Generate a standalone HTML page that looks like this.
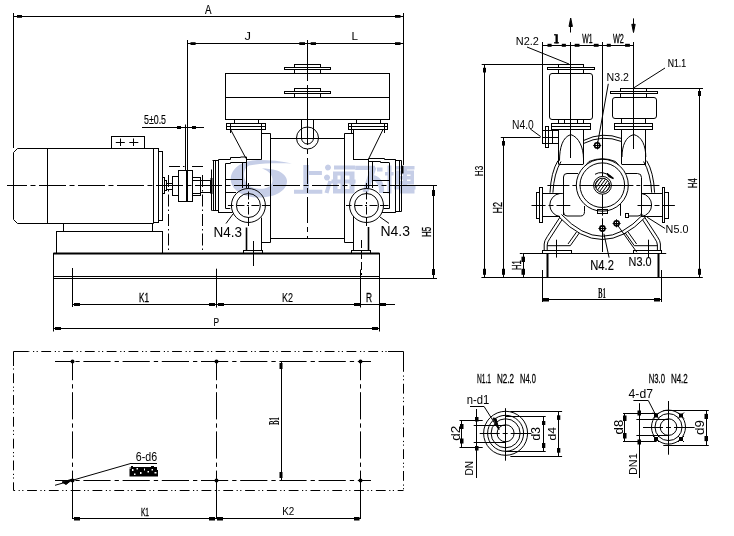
<!DOCTYPE html>
<html><head><meta charset="utf-8"><style>
html,body{margin:0;padding:0;background:#fff;}
svg{display:block;}
</style></head><body>
<svg width="734" height="536" viewBox="0 0 734 536">
<rect width="734" height="536" fill="#fff"/>
<g fill="none" stroke="#000" stroke-width="1" font-family="Liberation Sans, sans-serif">
<g fill="#000" stroke="none" id="txt"></g>
<line x1="13.5" y1="13" x2="13.5" y2="148"/>
<line x1="13.4" y1="16.5" x2="403.3" y2="16.5"/>
<line x1="403.5" y1="13" x2="403.5" y2="165"/>
<rect x="17" y="15" width="5" height="2.8" fill="#000" stroke="none"/>
<rect x="395" y="15" width="5.5" height="2.8" fill="#000" stroke="none"/>
<text x="205" y="13.8" font-size="11.86" textLength="6.5" lengthAdjust="spacingAndGlyphs" fill="#000" stroke="#000" stroke-width="0.15">A</text>
<line x1="187.5" y1="40" x2="187.5" y2="170"/>
<line x1="187.5" y1="43.5" x2="403.3" y2="43.5"/>
<rect x="190.5" y="42.2" width="5.1" height="2.8" fill="#000" stroke="none"/>
<rect x="299.3" y="42.2" width="5.7" height="2.8" fill="#000" stroke="none"/>
<rect x="310.7" y="42.2" width="5.3" height="2.8" fill="#000" stroke="none"/>
<rect x="395" y="42.2" width="5.5" height="2.8" fill="#000" stroke="none"/>
<text x="244.5" y="40" font-size="11.43" textLength="6.5" lengthAdjust="spacingAndGlyphs" fill="#000" stroke="none">J</text>
<text x="351.5" y="40" font-size="11.43" textLength="6.5" lengthAdjust="spacingAndGlyphs" fill="#000" stroke="none">L</text>
<line x1="307.5" y1="40" x2="307.5" y2="81"/>
<line x1="307.5" y1="85" x2="307.5" y2="119"/>
<line x1="307.5" y1="119" x2="307.5" y2="238" stroke-dasharray="26 4 5 4"/>
<rect x="225.5" y="73.5" width="164" height="46"/>
<line x1="225.4" y1="97.5" x2="389.8" y2="97.5"/>
<rect x="294.5" y="64.5" width="26" height="3"/>
<rect x="284.5" y="67.5" width="46" height="2"/>
<line x1="294.5" y1="69.4" x2="294.5" y2="73.4"/>
<line x1="320.5" y1="69.4" x2="320.5" y2="73.4"/>
<rect x="294.5" y="88.5" width="26" height="3"/>
<rect x="284.5" y="91.5" width="46" height="2"/>
<line x1="294.5" y1="93.4" x2="294.5" y2="97.4"/>
<line x1="320.5" y1="93.4" x2="320.5" y2="97.4"/>
<line x1="301.5" y1="119" x2="301.5" y2="138"/>
<line x1="313.5" y1="119" x2="313.5" y2="138"/>
<circle cx="307.5" cy="138" r="11"/>
<path d="M301.5 138 A6 6 0 0 0 313.5 138"/>
<line x1="234.5" y1="119" x2="234.5" y2="123.5"/>
<line x1="258.5" y1="119" x2="258.5" y2="123.5"/>
<rect x="226.5" y="123.5" width="39" height="6"/>
<line x1="226" y1="126.5" x2="265" y2="126.5"/>
<line x1="230.5" y1="123.5" x2="230.5" y2="133"/>
<line x1="261.5" y1="123.5" x2="261.5" y2="159.5"/>
<path d="M230.6 129.5 L246 158.5"/>
<line x1="246" y1="159.5" x2="261.5" y2="159.5"/>
<line x1="356.5" y1="119" x2="356.5" y2="123.5"/>
<line x1="380.5" y1="119" x2="380.5" y2="123.5"/>
<rect x="348.5" y="123.5" width="39" height="6"/>
<line x1="348.5" y1="126.5" x2="387.5" y2="126.5"/>
<line x1="351.5" y1="123.5" x2="351.5" y2="133"/>
<line x1="384.5" y1="123.5" x2="384.5" y2="133"/>
<line x1="353.5" y1="129" x2="353.5" y2="159.4"/>
<line x1="353" y1="159.5" x2="368.8" y2="159.5"/>
<path d="M368.8 158.5 L383 129.5"/>
<line x1="261.5" y1="133.5" x2="270.6" y2="133.5"/>
<line x1="270.5" y1="133.5" x2="270.5" y2="242.4"/>
<line x1="344.4" y1="133.5" x2="353" y2="133.5"/>
<line x1="344.5" y1="133.5" x2="344.5" y2="242.4"/>
<line x1="270.6" y1="138.5" x2="344.4" y2="138.5"/>
<line x1="270.6" y1="238.5" x2="344.4" y2="238.5"/>
<line x1="261.5" y1="242.5" x2="270.6" y2="242.5"/>
<line x1="344.4" y1="242.5" x2="353.4" y2="242.5"/>
<path d="M212.5 160.5 H218.5 V159.5 H230.5 V157.5 H240.5 V157 H246.5"/>
<line x1="211.5" y1="169.5" x2="211.5" y2="210.7"/>
<line x1="211.5" y1="178" x2="211.5" y2="194" stroke-width="2"/>
<line x1="213.5" y1="160.5" x2="213.5" y2="210.7"/>
<line x1="215.5" y1="161" x2="215.5" y2="210.7"/>
<line x1="218.5" y1="160" x2="218.5" y2="212.2"/>
<line x1="212.2" y1="210.5" x2="218" y2="210.5"/>
<line x1="218" y1="212.5" x2="232.6" y2="212.5"/>
<path d="M225.5 163.5 H230.5 V162.5 H246.5"/>
<line x1="225.5" y1="163.5" x2="225.5" y2="208.4"/>
<line x1="242.5" y1="162" x2="242.5" y2="188"/>
<line x1="246.5" y1="157" x2="246.5" y2="188"/>
<line x1="225.5" y1="179.5" x2="242.3" y2="179.5"/>
<line x1="225.5" y1="192.5" x2="236" y2="192.5"/>
<line x1="225.5" y1="208.5" x2="230.3" y2="208.5"/>
<path d="M368.5 158.5 H384.5 V159.5 H395.5 V160.5 H401.5"/>
<line x1="368.5" y1="158.5" x2="368.5" y2="188"/>
<line x1="372.5" y1="161.8" x2="372.5" y2="188"/>
<line x1="389.5" y1="163" x2="389.5" y2="208.4"/>
<path d="M368.7 161.5 H380.5 V162.5 H389.5"/>
<line x1="395.5" y1="159.5" x2="395.5" y2="212.5"/>
<line x1="399.5" y1="160.5" x2="399.5" y2="211.5"/>
<line x1="401.5" y1="160.5" x2="401.5" y2="211.5"/>
<line x1="402.5" y1="165.7" x2="402.5" y2="173.5" stroke-width="2"/>
<line x1="372.6" y1="180.5" x2="389.6" y2="180.5"/>
<line x1="383" y1="192.5" x2="389.6" y2="192.5"/>
<line x1="383.4" y1="208.5" x2="389.6" y2="208.5"/>
<path d="M381.5 212.5 H395.5 V211.5 H401.5"/>
<circle cx="248.4" cy="205.5" r="17" fill="#fff"/>
<circle cx="248.4" cy="205.5" r="12"/>
<line x1="227.9" y1="205.5" x2="270.4" y2="205.5" stroke-dasharray="5.5 3 8 2.5 2 2.5 8 2.5 9"/>
<line x1="248.5" y1="183" x2="248.5" y2="229" stroke-dasharray="5.5 3 8 2.5 2 2.5 8 2.5 9"/>
<circle cx="366.5" cy="205.5" r="17" fill="#fff"/>
<circle cx="366.5" cy="205.5" r="12"/>
<line x1="346" y1="205.5" x2="388.5" y2="205.5" stroke-dasharray="5.5 3 8 2.5 2 2.5 8 2.5 9"/>
<line x1="366.5" y1="183" x2="366.5" y2="229" stroke-dasharray="5.5 3 8 2.5 2 2.5 8 2.5 9"/>
<line x1="246.5" y1="227.5" x2="246.5" y2="250" stroke-width="1.6"/>
<line x1="261.5" y1="217.5" x2="261.5" y2="250"/>
<rect x="243.5" y="250.5" width="19" height="3"/>
<line x1="353.5" y1="216" x2="353.5" y2="250"/>
<line x1="368.5" y1="227" x2="368.5" y2="250" stroke-width="1.6"/>
<rect x="351.5" y="250.5" width="19" height="3"/>
<line x1="253.5" y1="241" x2="253.5" y2="266"/>
<line x1="361.5" y1="240" x2="361.5" y2="275" stroke-dasharray="8 3"/>
<text x="213.5" y="237" font-size="14.29" textLength="28.5" lengthAdjust="spacingAndGlyphs" fill="#000" stroke="none">N4.3</text>
<text x="380.5" y="235.6" font-size="14.57" textLength="29.5" lengthAdjust="spacingAndGlyphs" fill="#000" stroke="none">N4.3</text>
<path d="M233 214 L226 223.5"/>
<path d="M380 217 L389 223.4"/>
<line x1="53.4" y1="253.5" x2="379.5" y2="253.5" stroke-width="2"/>
<line x1="53.5" y1="253" x2="53.5" y2="331.5"/>
<line x1="379.5" y1="253" x2="379.5" y2="331.5"/>
<line x1="53.4" y1="276.5" x2="379.5" y2="276.5"/>
<line x1="53.4" y1="278.5" x2="437" y2="278.5"/>
<path d="M13.5 152.5 L17.5 148.5 L153.5 148.5 L153.5 223.5 L17.5 223.5 L13.5 219.5 Z"/>
<line x1="47.5" y1="148" x2="47.5" y2="223"/>
<rect x="153.5" y="148.5" width="5" height="74"/>
<rect x="158.5" y="151.5" width="4" height="69"/>
<rect x="111.5" y="136.5" width="33" height="12"/>
<line x1="115.8" y1="142.5" x2="124.8" y2="142.5"/>
<line x1="120.5" y1="138.5" x2="120.5" y2="146"/>
<line x1="129.3" y1="142.5" x2="138.3" y2="142.5"/>
<line x1="133.5" y1="138.5" x2="133.5" y2="146"/>
<rect x="63.5" y="223.5" width="89" height="8"/>
<rect x="56.5" y="231.5" width="106" height="22"/>
<line x1="168.5" y1="175" x2="168.5" y2="253" stroke-dasharray="12 3 1.5 3"/>
<line x1="202.5" y1="175" x2="202.5" y2="253" stroke-dasharray="12 3 1.5 3"/>
<line x1="169" y1="166.5" x2="180" y2="166.5"/>
<line x1="183" y1="166.5" x2="184.5" y2="166.5"/>
<line x1="192" y1="166.5" x2="203" y2="166.5"/>
<rect x="162.5" y="177.5" width="2" height="16"/>
<rect x="164.5" y="180.5" width="2" height="10"/>
<rect x="166.5" y="183.5" width="6" height="6"/>
<rect x="172.5" y="176.5" width="6" height="19"/>
<rect x="178.5" y="170.5" width="8" height="31"/>
<rect x="187.5" y="170.5" width="5" height="31"/>
<rect x="192.5" y="177.5" width="8" height="18"/>
<line x1="192.5" y1="180.5" x2="200.5" y2="180.5"/>
<line x1="192.5" y1="193.5" x2="200.5" y2="193.5"/>
<rect x="200.5" y="180.5" width="10" height="12"/>
<line x1="142" y1="127.5" x2="204" y2="127.5"/>
<rect x="177" y="126" width="4" height="3" fill="#000" stroke="none"/>
<rect x="192" y="126" width="4" height="3" fill="#000" stroke="none"/>
<line x1="185.5" y1="124.5" x2="185.5" y2="170"/>
<text x="144" y="124" font-size="12.12" textLength="22" lengthAdjust="spacingAndGlyphs" fill="#000" stroke="#000" stroke-width="0.15">5±0.5</text>
<line x1="7" y1="185.5" x2="404" y2="185.5" stroke-dasharray="27 3.5 5 3.5" stroke-dashoffset="7"/>
<line x1="403" y1="185.5" x2="437" y2="185.5"/>
<line x1="72.5" y1="268" x2="72.5" y2="307"/>
<line x1="216.5" y1="268.7" x2="216.5" y2="307.6"/>
<line x1="360.5" y1="269.5" x2="360.5" y2="307.5"/>
<line x1="72.7" y1="304.5" x2="395" y2="304.5"/>
<rect x="74" y="303" width="6" height="3" fill="#000" stroke="none"/>
<rect x="209" y="303" width="6" height="3" fill="#000" stroke="none"/>
<rect x="218" y="303" width="6" height="3" fill="#000" stroke="none"/>
<rect x="354" y="303" width="6" height="3" fill="#000" stroke="none"/>
<rect x="380" y="303" width="6" height="3" fill="#000" stroke="none"/>
<text x="139" y="301.8" font-size="12.57" textLength="10" lengthAdjust="spacingAndGlyphs" fill="#000" stroke="#000" stroke-width="0.3">K1</text>
<text x="282" y="301.5" font-size="12.14" textLength="11" lengthAdjust="spacingAndGlyphs" fill="#000" stroke="#000" stroke-width="0.15">K2</text>
<text x="366" y="302" font-size="12.86" textLength="6" lengthAdjust="spacingAndGlyphs" fill="#000" stroke="#000" stroke-width="0.3">R</text>
<line x1="53.4" y1="328.5" x2="379.5" y2="328.5"/>
<rect x="55" y="327" width="6" height="3" fill="#000" stroke="none"/>
<rect x="372" y="327" width="6" height="3" fill="#000" stroke="none"/>
<text x="213.4" y="326" font-size="11.43" textLength="5.6" lengthAdjust="spacingAndGlyphs" fill="#000" stroke="#000" stroke-width="0.15">P</text>
<line x1="433.5" y1="185" x2="433.5" y2="278"/>
<rect x="432" y="190" width="3" height="6" fill="#000" stroke="none"/>
<rect x="432" y="269" width="3" height="6" fill="#000" stroke="none"/>
<text transform="translate(431,236.9) rotate(-90)" x="0" y="0" font-size="12.71" textLength="10.1" lengthAdjust="spacingAndGlyphs" fill="#000" stroke="#000" stroke-width="0.3">H5</text>
<line x1="481.7" y1="64.5" x2="569" y2="64.5"/>
<line x1="484.5" y1="64.4" x2="484.5" y2="277.7"/>
<rect x="483" y="67.8" width="3" height="4.7" fill="#000" stroke="none"/>
<rect x="483" y="268.8" width="3" height="6" fill="#000" stroke="none"/>
<text transform="translate(482.5,176.2) rotate(-90)" x="0" y="0" font-size="11.43" textLength="10.4" lengthAdjust="spacingAndGlyphs" fill="#000" stroke="#000" stroke-width="0.15">H3</text>
<line x1="500.8" y1="137.5" x2="540.4" y2="137.5"/>
<line x1="503.5" y1="137.5" x2="503.5" y2="277.7"/>
<rect x="502" y="141" width="3" height="4.6" fill="#000" stroke="none"/>
<rect x="502" y="268.8" width="3" height="6" fill="#000" stroke="none"/>
<text transform="translate(502.4,213.5) rotate(-90)" x="0" y="0" font-size="13.14" textLength="11.5" lengthAdjust="spacingAndGlyphs" fill="#000" stroke="#000" stroke-width="0.3">H2</text>
<line x1="523.5" y1="253.2" x2="523.5" y2="277.7"/>
<line x1="519.8" y1="253.5" x2="522.3" y2="253.5"/>
<rect x="521.5" y="256.7" width="3.5" height="5.3" fill="#000" stroke="none"/>
<rect x="521.5" y="268.8" width="3.5" height="6" fill="#000" stroke="none"/>
<text transform="translate(520.5,270) rotate(-90)" x="0" y="0" font-size="12.14" textLength="9.7" lengthAdjust="spacingAndGlyphs" fill="#000" stroke="#000" stroke-width="0.3">H1</text>
<line x1="646.9" y1="88.5" x2="703" y2="88.5"/>
<line x1="699.5" y1="88.4" x2="699.5" y2="277.7"/>
<rect x="698" y="91" width="3" height="5" fill="#000" stroke="none"/>
<rect x="698" y="268.8" width="3" height="6" fill="#000" stroke="none"/>
<text transform="translate(697,187.9) rotate(-90)" x="0" y="0" font-size="13.14" textLength="9.5" lengthAdjust="spacingAndGlyphs" fill="#000" stroke="#000" stroke-width="0.3">H4</text>
<line x1="481.4" y1="277.5" x2="702.8" y2="277.5"/>
<line x1="542.3" y1="45.5" x2="633" y2="45.5"/>
<line x1="542.5" y1="42" x2="542.5" y2="130"/>
<line x1="570.5" y1="22" x2="570.5" y2="32.5"/>
<line x1="570.5" y1="42" x2="570.5" y2="158"/>
<path d="M570.7 18 L569 26.5 L572.4 26.5 Z" fill="#000"/>
<line x1="602.5" y1="42" x2="602.5" y2="215.7"/>
<line x1="602.5" y1="218.3" x2="602.5" y2="252"/>
<line x1="633.5" y1="18.4" x2="633.5" y2="29"/>
<line x1="633.5" y1="42" x2="633.5" y2="88"/>
<path d="M633.5 32.5 L631.8 24.3 L635.2 24.3 Z" fill="#000"/>
<rect x="547.5" y="43.8" width="4.1" height="3" fill="#000" stroke="none"/>
<rect x="561.8" y="43.8" width="4.1" height="3" fill="#000" stroke="none"/>
<rect x="574.7" y="43.8" width="4.8" height="3" fill="#000" stroke="none"/>
<rect x="593.8" y="43.8" width="4.8" height="3" fill="#000" stroke="none"/>
<rect x="606.8" y="43.8" width="4" height="3" fill="#000" stroke="none"/>
<rect x="625.1" y="43.8" width="4.8" height="3" fill="#000" stroke="none"/>
<text x="515.8" y="44.8" font-size="10.57" textLength="23.1" lengthAdjust="spacingAndGlyphs" fill="#000" stroke="none">N2.2</text>
<rect x="555.5" y="34.2" width="2.3" height="9.2" fill="#000" stroke="none"/>
<rect x="554" y="34.2" width="2" height="1.2" fill="#000" stroke="none"/>
<rect x="554" y="42.2" width="5" height="1.2" fill="#000" stroke="none"/>
<text x="582.2" y="42.7" font-size="12.14" textLength="10.3" lengthAdjust="spacingAndGlyphs" fill="#000" stroke="#000" stroke-width="0.3">W1</text>
<text x="612.9" y="42.7" font-size="12.14" textLength="10.9" lengthAdjust="spacingAndGlyphs" fill="#000" stroke="#000" stroke-width="0.3">W2</text>
<text x="606.6" y="81" font-size="11.43" textLength="22.4" lengthAdjust="spacingAndGlyphs" fill="#000" stroke="none">N3.2</text>
<text x="667.7" y="67" font-size="10.71" textLength="18.3" lengthAdjust="spacingAndGlyphs" fill="#000" stroke="#000" stroke-width="0.15">N1.1</text>
<text x="512" y="128.9" font-size="12.00" textLength="21.7" lengthAdjust="spacingAndGlyphs" fill="#000" stroke="none">N4.0</text>
<text x="665.6" y="232.6" font-size="11.71" textLength="22.8" lengthAdjust="spacingAndGlyphs" fill="#000" stroke="none">N5.0</text>
<text x="590.3" y="270.2" font-size="14.00" textLength="23.6" lengthAdjust="spacingAndGlyphs" fill="#000" stroke="#000" stroke-width="0.15">N4.2</text>
<text x="628.6" y="266.3" font-size="13.29" textLength="22.9" lengthAdjust="spacingAndGlyphs" fill="#000" stroke="#000" stroke-width="0.15">N3.0</text>
<path d="M527 47 L569 64"/>
<path d="M665 68 L634 87.7"/>
<path d="M608.3 83.8 L597.4 144.7"/>
<path d="M530.2 128.9 L540.7 136.6"/>
<path d="M647.2 217.3 L665.1 228.5"/>
<path d="M603.9 233.7 L609.1 257.6"/>
<path d="M617 224.4 L636.8 252.2"/>
<rect x="558.5" y="64.5" width="25" height="3"/>
<rect x="547.5" y="67.5" width="47" height="2"/>
<line x1="558.5" y1="69.9" x2="558.5" y2="73.3"/>
<line x1="583.5" y1="69.9" x2="583.5" y2="73.3"/>
<rect x="549.5" y="73.5" width="43.0" height="46.0" rx="2.5"/>
<line x1="558.5" y1="119.4" x2="558.5" y2="123.3"/>
<line x1="564.5" y1="119.4" x2="564.5" y2="123.3"/>
<line x1="570.5" y1="119.4" x2="570.5" y2="123.3"/>
<line x1="577.5" y1="119.4" x2="577.5" y2="123.3"/>
<line x1="583.5" y1="119.4" x2="583.5" y2="123.3"/>
<rect x="551.5" y="123.5" width="39" height="6"/>
<line x1="551.7" y1="126.5" x2="590.6" y2="126.5"/>
<rect x="620.5" y="88.5" width="26" height="3"/>
<rect x="610.5" y="91.5" width="47" height="2"/>
<line x1="620.5" y1="93.4" x2="620.5" y2="97.5"/>
<line x1="646.5" y1="93.4" x2="646.5" y2="97.5"/>
<rect x="612.5" y="97.5" width="44.0" height="21.0" rx="2.5"/>
<line x1="621.5" y1="118.9" x2="621.5" y2="123.4"/>
<line x1="633.5" y1="118.9" x2="633.5" y2="123.4"/>
<line x1="645.5" y1="118.9" x2="645.5" y2="123.4"/>
<rect x="614.5" y="123.5" width="38" height="6"/>
<line x1="614.7" y1="126.5" x2="652.4" y2="126.5"/>
<line x1="633.5" y1="88" x2="633.5" y2="149"/>
<line x1="558.5" y1="129.6" x2="558.5" y2="164.2"/>
<line x1="583.5" y1="129.6" x2="583.5" y2="164.2"/>
<line x1="558.5" y1="164.5" x2="583.3" y2="164.5"/>
<path d="M559.5 160.7 C559.5 148 562.5 137 570.8 134.6 C579 137 583.5 148 583.5 158.7"/>
<line x1="621.5" y1="129.2" x2="621.5" y2="164.2"/>
<line x1="645.5" y1="129.2" x2="645.5" y2="164.2"/>
<line x1="621.7" y1="164.5" x2="645.9" y2="164.5"/>
<path d="M622 157 C622 146 625.5 136.5 633.8 134.6 C642 136.5 645.8 146 645.8 157"/>
<rect x="542.5" y="130.5" width="6" height="13"/>
<rect x="545.5" y="126.5" width="3" height="21"/>
<rect x="548.5" y="130.5" width="4" height="13"/>
<rect x="552.5" y="130.5" width="6" height="13"/>
<line x1="542.3" y1="137.5" x2="558.5" y2="137.5"/>
<path d="M583.5 140.5 Q602.5 131 621.5 138.5"/>
<path d="M583.5 143.5 Q602.5 134 621.5 141.5"/>
<path d="M557.9 160.7 Q551 172 550 192.7"/>
<path d="M561 161.5 Q554 173 552.9 192.7"/>
<path d="M646.7 160.7 Q653.6 172 654.6 192.7"/>
<path d="M643.6 161.5 Q650.6 173 651.7 192.7"/>
<circle cx="602.3" cy="185.2" r="26"/>
<circle cx="602.3" cy="185.2" r="22.3"/>
<path d="M586 165 L589 161.5 Q602.3 156 615.5 161.5 L618.5 165"/>
<path d="M563.5 215 V177 Q563.5 173.5 567 173.5 H578"/>
<path d="M626 173.5 H637.5 Q641.5 173.5 641.5 177.5 V216.5"/>
<path d="M563.5 212 Q563.5 216 567 216 H580.5 Q584.5 216 584.5 211.5 V206"/>
<path d="M641.5 213 Q641.5 216 638 216 H629"/>
<line x1="620.5" y1="203.9" x2="620.5" y2="215.8"/>
<rect x="597.5" y="209.5" width="10" height="4"/>
<rect x="625.5" y="213.5" width="3" height="4"/>
<rect x="536.5" y="192.5" width="3" height="26"/>
<rect x="539.5" y="187.5" width="3" height="35"/>
<line x1="542.2" y1="193.5" x2="562.8" y2="193.5"/>
<line x1="542.2" y1="216.5" x2="559.9" y2="216.5"/>
<path d="M559.9 193.5 A11.6 11.6 0 0 0 559.9 216.5"/>
<rect x="662.5" y="187.5" width="2" height="35"/>
<rect x="664.5" y="192.5" width="4" height="26"/>
<line x1="641.3" y1="193.5" x2="662.2" y2="193.5"/>
<line x1="641.3" y1="216.5" x2="662.2" y2="216.5"/>
<path d="M641.5 193.5 A11.6 11.6 0 0 1 641.5 216.5"/>
<line x1="531.5" y1="205.5" x2="570.3" y2="205.5" stroke-dasharray="14 3 5 3 20"/>
<line x1="637.5" y1="205.5" x2="674.9" y2="205.5" stroke-dasharray="14 3 5 3 20"/>
<line x1="547.4" y1="185.5" x2="659.4" y2="185.5" stroke-dasharray="22 3 4 3"/>
<circle cx="602.5" cy="185.3" r="8.9" fill="#fff"/>
<circle cx="602.5" cy="185.3" r="7.1"/>
<clipPath id="sh"><circle cx="602.5" cy="185.3" r="7"/></clipPath>
<g clip-path="url(#sh)"><line x1="580.4" y1="196" x2="596.4" y2="174"/><line x1="583.6" y1="196" x2="599.6" y2="174"/><line x1="586.8" y1="196" x2="602.8" y2="174"/><line x1="590.0" y1="196" x2="606.0" y2="174"/><line x1="593.2" y1="196" x2="609.2" y2="174"/><line x1="596.4" y1="196" x2="612.4" y2="174"/><line x1="599.6" y1="196" x2="615.6" y2="174"/><line x1="602.8" y1="196" x2="618.8" y2="174"/><line x1="606.0" y1="196" x2="622.0" y2="174"/></g>
<line x1="592" y1="185.5" x2="613" y2="185.5"/>
<path d="M595 174.3 Q602 170 611 176.5"/>
<path d="M607 173.5 L613.5 178.5 L609 176.5 Z" stroke-width="1.5" fill="#000"/>
<circle cx="597.2" cy="145.4" r="2.6" stroke-width="1.6"/>
<line x1="593.2" y1="145.5" x2="601.2" y2="145.5"/>
<line x1="597.5" y1="141.4" x2="597.5" y2="149.4"/>
<circle cx="602.4" cy="228.5" r="2.6" stroke-width="1.6"/>
<line x1="598.4" y1="228.5" x2="606.4" y2="228.5"/>
<line x1="602.5" y1="224.5" x2="602.5" y2="232.5"/>
<circle cx="616.6" cy="223.3" r="2.6" stroke-width="1.6"/>
<line x1="612.6" y1="223.5" x2="620.6" y2="223.5"/>
<line x1="616.5" y1="219.3" x2="616.5" y2="227.3"/>
<path d="M559 217 Q602.3 262 645.6 217"/>
<path d="M561.5 214.5 Q602.3 258 643.1 214.5"/>
<path d="M559.9 217.3 L547.2 236.7 Q544.2 241 544.2 244 V250.9"/>
<path d="M562 219.8 L550 238.3 Q547.2 242 547.2 245 V250.9"/>
<path d="M579.3 233 L570.3 245.7 H547.2"/>
<path d="M576.5 232 L568 244 "/>
<path d="M644.7 217.3 L657.4 236.7 Q660.4 241 660.4 244 V250.9"/>
<path d="M642.6 219.8 L654.6 238.3 Q657.4 242 657.4 245 V250.9"/>
<path d="M625.3 233 L634.3 245.7 H657.4"/>
<path d="M628.1 232 L636.6 244"/>
<rect x="542.5" y="250.5" width="29" height="3"/>
<rect x="633.5" y="250.5" width="28" height="3"/>
<line x1="556.5" y1="239.7" x2="556.5" y2="257.6"/>
<line x1="648.5" y1="239.7" x2="648.5" y2="257.6"/>
<line x1="522.3" y1="253.5" x2="666.2" y2="253.5"/>
<line x1="547.5" y1="253.2" x2="547.5" y2="277.7" stroke-width="2"/>
<line x1="658.5" y1="253.2" x2="658.5" y2="277.7" stroke-width="2"/>
<line x1="538.9" y1="277.5" x2="548" y2="277.5"/>
<line x1="658" y1="277.5" x2="667" y2="277.5"/>
<line x1="542.5" y1="270" x2="542.5" y2="302"/>
<line x1="661.5" y1="270" x2="661.5" y2="302"/>
<line x1="542" y1="299.5" x2="661.3" y2="299.5"/>
<rect x="543" y="298" width="6" height="3.5" fill="#000" stroke="none"/>
<rect x="654" y="298" width="6" height="3.5" fill="#000" stroke="none"/>
<text x="598" y="297.9" font-size="15" font-family="Liberation Serif" font-weight="bold" textLength="8" lengthAdjust="spacingAndGlyphs" fill="#000" stroke="none">B1</text>
<path d="M13.5 366 V351.5 H28.5"/>
<path d="M388 351.5 H403.5 V362"/>
<path d="M28.5 351.5 H388" stroke-dasharray="9.8 3.7 1.2 2.4 1.2 3.5" stroke-dashoffset="9"/>
<path d="M403.5 362 V490.5" stroke-dasharray="9.8 3.7 1.2 2.4 1.2 3.5" stroke-dashoffset="0"/>
<path d="M403.5 490.5 H13.5 V366" stroke-dasharray="9.8 3.7 1.2 2.4 1.2 3.5" stroke-dashoffset="4"/>
<line x1="55" y1="361.5" x2="371" y2="361.5" stroke-dasharray="27.2 4 4.3 3.7" stroke-dashoffset="10.8"/>
<line x1="55" y1="480.5" x2="371" y2="480.5" stroke-dasharray="27.2 4 4.3 3.7" stroke-dashoffset="10.8"/>
<line x1="72.5" y1="361" x2="72.5" y2="480" stroke-dasharray="27.2 4 4.3 3.7" stroke-dashoffset="8"/>
<line x1="72.5" y1="480" x2="72.5" y2="519"/>
<line x1="216.5" y1="361" x2="216.5" y2="480" stroke-dasharray="27.2 4 4.3 3.7" stroke-dashoffset="8"/>
<line x1="216.5" y1="480" x2="216.5" y2="519"/>
<line x1="360.5" y1="361" x2="360.5" y2="480" stroke-dasharray="27.2 4 4.3 3.7" stroke-dashoffset="8"/>
<line x1="360.5" y1="480" x2="360.5" y2="519"/>
<circle cx="72.5" cy="361.5" r="2" fill="#000" stroke="none"/>
<circle cx="72.5" cy="480.5" r="2" fill="#000" stroke="none"/>
<circle cx="216.5" cy="361.5" r="2" fill="#000" stroke="none"/>
<circle cx="216.5" cy="480.5" r="2" fill="#000" stroke="none"/>
<circle cx="360.5" cy="361.5" r="2" fill="#000" stroke="none"/>
<circle cx="360.5" cy="480.5" r="2" fill="#000" stroke="none"/>
<line x1="281.5" y1="361" x2="281.5" y2="480"/>
<rect x="279.5" y="363" width="3" height="6" fill="#000" stroke="none"/>
<rect x="279.5" y="472" width="3" height="6" fill="#000" stroke="none"/>
<text transform="translate(279,425) rotate(-90)" font-size="14" font-family="Liberation Serif" font-weight="bold" textLength="8" lengthAdjust="spacingAndGlyphs" fill="#000" stroke="none">B1</text>
<line x1="72.4" y1="518.5" x2="360" y2="518.5"/>
<rect x="74" y="517" width="6" height="3.5" fill="#000" stroke="none"/>
<rect x="209" y="517" width="6" height="3.5" fill="#000" stroke="none"/>
<rect x="217" y="517" width="6" height="3.5" fill="#000" stroke="none"/>
<rect x="354" y="517" width="5.5" height="3.5" fill="#000" stroke="none"/>
<text x="140.9" y="515.6" font-size="10.86" textLength="8.1" lengthAdjust="spacingAndGlyphs" fill="#000" stroke="#000" stroke-width="0.3">K1</text>
<text x="282.2" y="515.4" font-size="11.43" textLength="12.1" lengthAdjust="spacingAndGlyphs" fill="#000" stroke="none">K2</text>
<text x="135.8" y="460.6" font-size="12.00" textLength="21.3" lengthAdjust="spacingAndGlyphs" fill="#000" stroke="none">6-d6</text>
<line x1="130" y1="463.5" x2="157" y2="463.5"/>
<path d="M130 463.7 L55 485.3"/>
<path d="M62 482 L73 479 L66 484.5 Z" fill="#000"/>
<g stroke="none"><rect x="129.5" y="467" width="28.5" height="9.5" fill="#000"/><rect x="131" y="466" width="2" height="1" fill="#000"/><rect x="151" y="466" width="3" height="1" fill="#000"/>
<rect x="132" y="469" width="1.5" height="2" fill="#fff"/>
<rect x="136.5" y="468" width="1.5" height="1.5" fill="#fff"/>
<rect x="140" y="472" width="1.5" height="2" fill="#fff"/>
<rect x="144" y="468.5" width="1" height="2" fill="#fff"/>
<rect x="147.5" y="471" width="1.5" height="1.5" fill="#fff"/>
<rect x="151.5" y="469" width="1.5" height="1.5" fill="#fff"/>
<rect x="154.5" y="472" width="2" height="1.5" fill="#fff"/>
<rect x="134" y="473.5" width="1.5" height="1.5" fill="#fff"/>
<rect x="129.5" y="467" width="1" height="2" fill="#fff"/>
<rect x="157" y="467" width="1" height="3" fill="#fff"/>
</g>
<circle cx="505.6" cy="433.3" r="22"/>
<circle cx="505.6" cy="433.3" r="18"/>
<circle cx="505.6" cy="433.3" r="14.5"/>
<circle cx="505.6" cy="433.3" r="8.5"/>
<text x="476.9" y="382.8" font-size="12.14" textLength="14.1" lengthAdjust="spacingAndGlyphs" fill="#000" stroke="#000" stroke-width="0.3">N1.1</text>
<text x="497" y="382.8" font-size="12.14" textLength="17" lengthAdjust="spacingAndGlyphs" fill="#000" stroke="#000" stroke-width="0.3">N2.2</text>
<text x="520" y="382.8" font-size="12.14" textLength="15.9" lengthAdjust="spacingAndGlyphs" fill="#000" stroke="#000" stroke-width="0.3">N4.0</text>
<text x="466.7" y="404.4" font-size="12.00" textLength="22.6" lengthAdjust="spacingAndGlyphs" fill="#000" stroke="none">n-d1</text>
<line x1="470" y1="406.5" x2="484.2" y2="406.5"/>
<path d="M484.2 406.7 L498.5 429.2"/>
<path d="M493 418 L499 429.5 L496 418.5 Z" fill="#000"/>
<line x1="510.4" y1="411.5" x2="562.1" y2="411.5"/>
<line x1="510.4" y1="456.5" x2="562.1" y2="456.5"/>
<line x1="505.6" y1="416.5" x2="545.7" y2="416.5"/>
<line x1="505.6" y1="451.5" x2="545.7" y2="451.5"/>
<line x1="459.5" y1="420.5" x2="482.7" y2="420.5"/>
<line x1="459.5" y1="447.5" x2="482.7" y2="447.5"/>
<line x1="473.7" y1="425.5" x2="505.6" y2="425.5"/>
<line x1="473.7" y1="442.5" x2="505.6" y2="442.5"/>
<line x1="558.5" y1="411.2" x2="558.5" y2="456.2"/>
<rect x="557" y="415.3" width="3.3" height="4.6" fill="#000" stroke="none"/>
<rect x="557" y="448" width="3.3" height="4.7" fill="#000" stroke="none"/>
<line x1="543.5" y1="416.2" x2="543.5" y2="451"/>
<rect x="542" y="421" width="3.3" height="4" fill="#000" stroke="none"/>
<rect x="542" y="443" width="3.3" height="5" fill="#000" stroke="none"/>
<line x1="461.5" y1="420.2" x2="461.5" y2="447.2"/>
<rect x="460" y="424" width="3.5" height="5" fill="#000" stroke="none"/>
<rect x="460" y="438.5" width="3.5" height="5" fill="#000" stroke="none"/>
<line x1="476.5" y1="409" x2="476.5" y2="478"/>
<rect x="475" y="417" width="3.5" height="4.5" fill="#000" stroke="none"/>
<rect x="475" y="446" width="3.5" height="4.5" fill="#000" stroke="none"/>
<line x1="505.5" y1="408.2" x2="505.5" y2="460.7"/>
<line x1="479.7" y1="433.5" x2="531.4" y2="433.5" stroke-dasharray="20 3 5 3 30"/>
<text transform="translate(460.3,440.7) rotate(-90)" x="0" y="0" font-size="13.24" textLength="15" lengthAdjust="spacingAndGlyphs" fill="#000" stroke="none">d2</text>
<text transform="translate(540,440.5) rotate(-90)" x="0" y="0" font-size="11.89" textLength="13.4" lengthAdjust="spacingAndGlyphs" fill="#000" stroke="none">d3</text>
<text transform="translate(555.7,440.5) rotate(-90)" x="0" y="0" font-size="11.49" textLength="13.4" lengthAdjust="spacingAndGlyphs" fill="#000" stroke="none">d4</text>
<text transform="translate(473.3,475.4) rotate(-90)" x="0" y="0" font-size="11.14" textLength="14.4" lengthAdjust="spacingAndGlyphs" fill="#000" stroke="none">DN</text>
<circle cx="668.5" cy="427.1" r="17"/>
<circle cx="668.5" cy="427.1" r="13.5"/>
<circle cx="668.5" cy="427.1" r="8.3"/>
<rect x="654" y="413.5" width="4" height="4" fill="#000" stroke="none"/>
<path d="M653 412.5 L659 418.5 M653 418.5 L659 412.5"/>
<rect x="679" y="413.5" width="4" height="4" fill="#000" stroke="none"/>
<path d="M678 412.5 L684 418.5 M678 418.5 L684 412.5"/>
<rect x="654" y="437" width="4" height="4" fill="#000" stroke="none"/>
<path d="M653 436 L659 442 M653 442 L659 436"/>
<rect x="679" y="437" width="4" height="4" fill="#000" stroke="none"/>
<path d="M678 436 L684 442 M678 442 L684 436"/>
<text x="648.8" y="383.1" font-size="12.86" textLength="16.2" lengthAdjust="spacingAndGlyphs" fill="#000" stroke="#000" stroke-width="0.3">N3.0</text>
<text x="670.9" y="383.1" font-size="12.86" textLength="16.9" lengthAdjust="spacingAndGlyphs" fill="#000" stroke="#000" stroke-width="0.3">N4.2</text>
<text x="628.6" y="398.3" font-size="12.43" textLength="24.3" lengthAdjust="spacingAndGlyphs" fill="#000" stroke="none">4-d7</text>
<line x1="633.4" y1="400.5" x2="648.4" y2="400.5"/>
<path d="M648.4 400.7 L655.8 415.1"/>
<line x1="663.3" y1="410.5" x2="708.8" y2="410.5"/>
<line x1="663.3" y1="445.5" x2="708.8" y2="445.5"/>
<line x1="623" y1="413.5" x2="656.6" y2="413.5"/>
<line x1="623" y1="441.5" x2="656.6" y2="441.5"/>
<line x1="636.4" y1="419.5" x2="668.5" y2="419.5"/>
<line x1="636.4" y1="435.5" x2="668.5" y2="435.5"/>
<line x1="706.5" y1="410.2" x2="706.5" y2="445"/>
<rect x="704.5" y="413.9" width="3.5" height="5.1" fill="#000" stroke="none"/>
<rect x="704.5" y="436" width="3.5" height="5.1" fill="#000" stroke="none"/>
<line x1="624.5" y1="413.7" x2="624.5" y2="441.3"/>
<rect x="623" y="415.5" width="3.5" height="5.5" fill="#000" stroke="none"/>
<rect x="623" y="433" width="3.5" height="5.5" fill="#000" stroke="none"/>
<line x1="639.5" y1="403.2" x2="639.5" y2="478"/>
<rect x="637.5" y="410.5" width="3.5" height="5" fill="#000" stroke="none"/>
<rect x="637.5" y="439.5" width="3.5" height="5" fill="#000" stroke="none"/>
<line x1="668.5" y1="401" x2="668.5" y2="454.7"/>
<line x1="643" y1="427.5" x2="694.6" y2="427.5" stroke-dasharray="20 3 5 3 30"/>
<text transform="translate(703.5,435) rotate(-90)" x="0" y="0" font-size="12.57" textLength="15" lengthAdjust="spacingAndGlyphs" fill="#000" stroke="none">d9</text>
<text transform="translate(623.3,434.4) rotate(-90)" x="0" y="0" font-size="13.24" textLength="14.7" lengthAdjust="spacingAndGlyphs" fill="#000" stroke="none">d8</text>
<text transform="translate(636.6,475) rotate(-90)" x="0" y="0" font-size="11.00" textLength="21.7" lengthAdjust="spacingAndGlyphs" fill="#000" stroke="none">DN1</text>
<g fill="#c6cee7" stroke="none" style="mix-blend-mode:multiply">
<path d="M292 163.5 C280 161 266 159.8 255 160.2 C241 161 230.8 169 230.8 179 C230.8 190 243 197.5 259 197.5 C275 197.5 287 191 287 181 C287 177 283 172.5 277 170.5 C272 169 266 168.5 262 168.5 C270 171 274 177 272 183 C270.5 187.5 264 189.5 257 188.5 C249 188 244 182 244 175 C244 170 246 167 249 165.5 C258 163.5 275 163 292 163.5 Z"/>
<path d="M303.3 164.9H309V190.1H303.3ZM309 171H321.9V175H309ZM294 189.7H322.3V193.7H294ZM328 164.5 a3 3 0 1 0 0.01 0ZM327 174.5 a3 3 0 1 0 0.01 0ZM328.5 180.5 L332 181.5 L328.5 193.5 L324.5 192.5ZM334 165.5H355V169.5H334ZM333 171.5H337.5V193.5H333ZM333 171.5H354.5V175.5H333ZM349.5 171.5H354.5V193.5H349.5ZM331.5 179.5H355.5V183.5H331.5ZM333 189H354.5V193.5H333ZM340.5 175H345V189H340.5ZM355.2 165.8H375V170H355.2ZM371 166 L376.5 167.5 L368 193 L362.5 191.5ZM373.5 175 C 382 177 385 185 384 193 L379 193 C 379.5 186 377 181 371.5 180ZM377 167.5H382.5V171.5H377ZM385 172H393.5V175.5H385ZM387.5 165.5H391.5V193.5H387.5ZM395 166H414.5V169.5H395ZM396.5 170.5H413.5V174.5H396.5ZM396.5 176H413.5V179.5H396.5ZM396.5 181H413.5V184.5H396.5ZM396 170.5H399.5V184.5H396ZM410.5 170.5H414V184.5H410.5ZM403 166H407V193.5H403ZM394 186H415.5V189.5H394ZM399.5 189.5H414.5V193.5H399.5Z"/>
</g>
</g>
</svg>
</body></html>
